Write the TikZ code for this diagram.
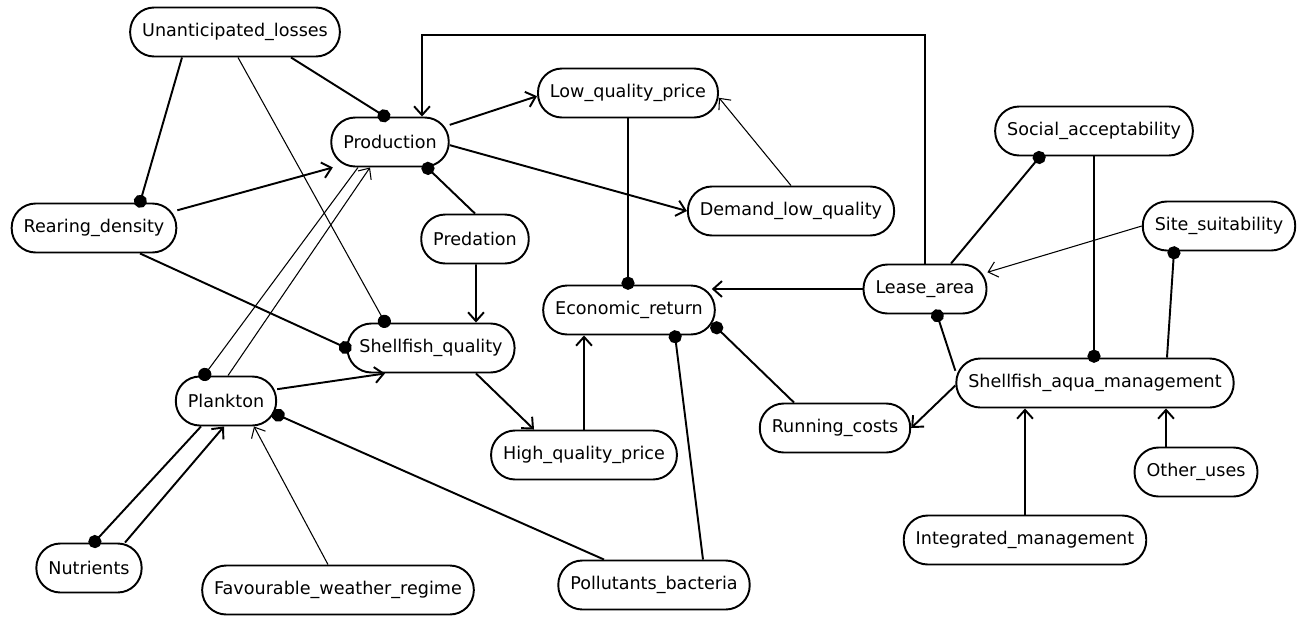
\documentclass[tikz,border=0pt]{standalone}
\usepackage{fontspec}
\setmainfont{DejaVu Sans}
\usetikzlibrary{arrows.meta}

\begin{document}
\begin{tikzpicture}[
  every node/.style={font=\fontsize{10}{12}\selectfont},
  var/.style={rectangle, draw, line width=1.1pt, rounded corners=0.48cm, minimum height=0.98cm, inner xsep=0.24cm, fill=white},
  posedge/.style={-{Straight Barb[length=5pt,width=9pt]}, line width=1.1pt},
  negedge/.style={-{Circle[length=7.5pt,width=7.5pt]}, line width=1.1pt, shorten >=-3pt},
  thinpos/.style={posedge, line width=0.6pt},
  thinneg/.style={negedge, line width=0.6pt},
]
\useasboundingbox (0,0) rectangle (26.2,-12.32);

% variables
\node[var] (unl) at (4.70,-0.64) {Unanticipated\_losses};
\node[var] (prod) at (7.80,-2.84) {Production};
\node[var] (lqp) at (12.56,-1.86) {Low\_quality\_price};
\node[var] (dlq) at (15.82,-4.22) {Demand\_low\_quality};
\node[var] (rear) at (1.88,-4.56) {Rearing\_density};
\node[var] (pred) at (9.50,-4.78) {Predation};
\node[var] (soc) at (21.88,-2.62) {Social\_acceptability};
\node[var] (site) at (24.38,-4.52) {Site\_suitability};
\node[var] (lease) at (18.50,-5.78) {Lease\_area};
\node[var] (econ) at (12.58,-6.20) {Economic\_return};
\node[var] (sq) at (8.62,-6.96) {Shellfish\_quality};
\node[var] (plank) at (4.52,-8.02) {Plankton};
\node[var] (sam) at (21.90,-7.66) {Shellfish\_aqua\_management};
\node[var] (run) at (16.70,-8.56) {Running\_costs};
\node[var] (hqp) at (11.68,-9.10) {High\_quality\_price};
\node[var] (other) at (23.92,-9.44) {Other\_uses};
\node[var] (integ) at (20.50,-10.80) {Integrated\_management};
\node[var] (nutr) at (1.78,-11.36) {Nutrients};
\node[var] (fav) at (6.76,-11.80) {Favourable\_weather\_regime};
\node[var] (poll) at (13.08,-11.70) {Pollutants\_bacteria};

% influences
\draw[negedge] ([xshift=1.12cm]unl.south) -- ([xshift=-0.1cm]prod.north);
\draw[negedge] ([xshift=-1.06cm]unl.south) -- ([xshift=0.92cm]rear.north);
\draw[thinneg] ([xshift=0.06cm]unl.south) -- ([xshift=-0.92cm]sq.north);
\draw[posedge] (rear.12) -- (prod.204);
\draw[negedge] ([xshift=0.92cm]rear.south) -- (sq.west);
\draw[thinneg] ([xshift=-0.64cm]prod.south) -- ([xshift=-0.44cm]plank.north);
\draw[thinpos] ([xshift=0.04cm]plank.north) -- ([xshift=-0.4cm]prod.south);
\draw[posedge] (prod.16) -- (lqp.182);
\draw[posedge] (prod.-3) -- (dlq.west);
\draw[negedge] (pred.north) -- ([xshift=0.74cm]prod.south);
\draw[posedge] ([xshift=0.02cm]pred.south) -- ([xshift=0.9cm]sq.north);
\draw[posedge] (lease.north) |- ([xshift=0.64cm,yshift=1.64cm]prod.north) -- ([xshift=0.64cm]prod.north);
\draw[thinpos] (dlq.north) -- (lqp.-3);
\draw[negedge] (lqp.south) -- (lqp.south |- econ.north);
\draw[posedge] (lease.west) -- ([xshift=-0.08cm]lease.west -| econ.east);
\draw[thinpos] (site.west) -- (lease.15);
\draw[negedge] ([xshift=0.52cm]lease.north) -- ([xshift=-1.08cm]soc.south);
\draw[negedge] (soc.south) -- (soc.south |- sam.north);
\draw[negedge] ([xshift=1.44cm]sam.north) -- ([xshift=-0.9cm]site.south);
\draw[negedge] (sam.175) -- ([xshift=0.24cm]lease.south);
\draw[posedge] (sam.181) -- (run.east);
\draw[posedge] (integ.north) -- (integ.north |- sam.south);
\draw[posedge] ([xshift=-0.6cm]other.north) -- ([xshift=-0.6cm]other.north |- sam.south);
\draw[negedge] ([xshift=-0.82cm]run.north) -- (econ.-11);
\draw[posedge] ([xshift=0.9cm]sq.south) -- ([xshift=-1cm]hqp.north);
\draw[posedge] (hqp.north) -- (hqp.north |- econ.south);
\draw[negedge] ([xshift=0.98cm]poll.north) -- ([xshift=0.92cm]econ.south);
\draw[negedge] ([xshift=-1cm]poll.north) -- (plank.-15);
\draw[posedge] (plank.13) -- ([xshift=-0.92cm]sq.south);
\draw[negedge] ([xshift=-0.5cm]plank.south) -- ([xshift=0.1cm]nutr.north);
\draw[posedge] ([xshift=0.72cm]nutr.north) -- ([xshift=-0.04cm]plank.south);
\draw[thinpos] ([xshift=-0.2cm]fav.north) -- ([xshift=0.56cm]plank.south);

\end{tikzpicture}
\end{document}
